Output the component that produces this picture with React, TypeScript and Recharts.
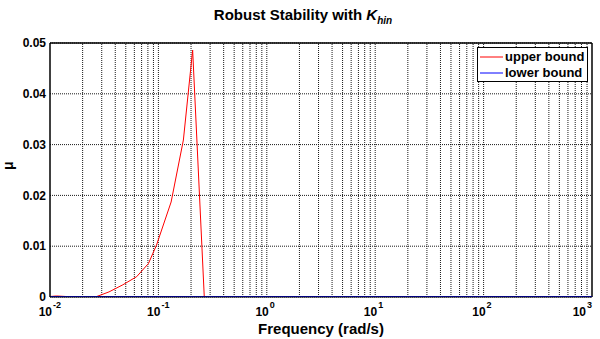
import {
  LineChart,
  Line,
  XAxis,
  YAxis,
  CartesianGrid,
  ReferenceLine,
  Legend,
} from "recharts";

const FONT = '"Liberation Sans", Arial, Helvetica, sans-serif';

// frequency points (rad/s) and mu bounds
const freq = [0.01, 0.0115, 0.014, 0.02, 0.027, 0.035, 0.047, 0.063, 0.081, 0.096, 0.131, 0.17, 0.207, 0.265, 1, 10, 100, 1000];
const upperBound = [0.0001, 0.0002, 0.0001, 0, 0.0001, 0.001, 0.0024, 0.004, 0.0066, 0.0102, 0.0187, 0.0309, 0.0486, 0, 0, 0, 0, 0];
const lowerBound = [0, 0, 0, 0, 0, 0, 0, 0, 0, 0, 0, 0, 0, 0, 0, 0, 0, 0];

const seriesNames = ["upper bound", "lower bound"];

const xTicks = [0.01, 0.1, 1, 10, 100, 1000];
const yTicks = [0, 0.01, 0.02, 0.03, 0.04, 0.05];

// minor log grid: 2..9 x each decade, plus inner decades
const decades = [0.01, 0.1, 1, 10, 100];
const minorMults = [2, 3, 4, 5, 6, 7, 8, 9, 10];

const gridX: number[] = [];
decades.forEach((d) => minorMults.forEach((m) => {
  const v = +(d * m).toPrecision(3);
  if (v < 1000) gridX.push(v);
}));

const data = freq.map((f, i) => ({ f, upper: upperBound[i], lower: lowerBound[i] }));

const GRID = { stroke: "#000", strokeDasharray: "1 1", strokeOpacity: 0.9 };

const FreqTick = (props: any) => {
  const { x, y, payload } = props;
  const exp = Math.round(Math.log10(payload.value));
  const shift = payload.value === 1000 ? -6 : 2;
  return (
    <g fontFamily={FONT} fontWeight="bold" fill="#000">
      <text x={x + shift} y={y + 19} textAnchor="end" fontSize={12}>10</text>
      <text x={x + shift + 1} y={y + 11} textAnchor="start" fontSize={9}>{exp}</text>
    </g>
  );
};

const renderLegend = (props: any) => {
  const items = [...(props.payload || [])].sort(
    (a: any, b: any) => seriesNames.indexOf(a.value) - seriesNames.indexOf(b.value)
  );
  return (
    <div
      style={{
        border: "1px solid #000",
        background: "#fff",
        padding: "1px 3px 0px 2px",
        fontFamily: FONT,
        fontWeight: "bold",
        fontSize: 13,
        lineHeight: "16px",
      }}
    >
      {items.map((entry: any) => (
        <div key={entry.value} style={{ display: "flex", alignItems: "center", whiteSpace: "nowrap" }}>
          <svg width={24} height={10} style={{ marginRight: 1 }}>
            <line x1={0} y1={5} x2={23} y2={5} stroke={entry.color} strokeWidth={1} />
          </svg>
          <span>{entry.value}</span>
        </div>
      ))}
    </div>
  );
};

export default function App() {
  return (
    <div style={{ position: "absolute", left: 0, top: 0, width: 600, height: 339, background: "#fff" }}>
      <div
        style={{
          position: "absolute",
          left: 0,
          top: 6,
          width: 606,
          textAlign: "center",
          fontFamily: FONT,
          fontWeight: "bold",
          fontSize: 15,
          color: "#000",
        }}
      >
        Robust Stability with <i>K<sub style={{ fontSize: 10 }}>hin</sub></i>
      </div>
      <LineChart
        width={600}
        height={339}
        data={data}
        margin={{ top: 43, right: 8, left: 0, bottom: 0 }}
      >
        <CartesianGrid vertical={false} {...GRID} />
        {gridX.map((v) => (
          <ReferenceLine key={v} x={v} {...GRID} />
        ))}
        <XAxis
          dataKey="f"
          type="number"
          scale="log"
          domain={[0.01, 1000]}
          ticks={xTicks}
          allowDataOverflow
          height={42}
          tickLine={false}
          tickSize={0}
          tickMargin={0}
          tick={<FreqTick />}
          interval={0}
          axisLine={{ stroke: "#000", strokeWidth: 1 }}
          label={{
            value: "Frequency (rad/s)",
            position: "insideBottom",
            offset: 5,
            fill: "#000",
            fontSize: 15,
            fontWeight: "bold",
            fontFamily: FONT,
          }}
        />
        <YAxis
          type="number"
          domain={[0, 0.05]}
          ticks={yTicks}
          allowDataOverflow
          width={50}
          tickLine={false}
          tickSize={4}
          tickMargin={0}
          interval={0}
          tick={{ fill: "#000", fontSize: 12, fontWeight: "bold", fontFamily: FONT }}
          axisLine={{ stroke: "#000", strokeWidth: 1.5 }}
          label={{
            value: "μ",
            angle: -90,
            position: "insideLeft",
            offset: 8,
            fill: "#000",
            fontSize: 14,
            fontWeight: "bold",
            fontFamily: FONT,
          }}
        />
        <ReferenceLine y={0.05} stroke="#000" strokeWidth={1.5} />
        <ReferenceLine x={1000} stroke="#000" strokeWidth={1.5} />
        <Legend
          layout="vertical"
          align="center"
          verticalAlign="middle"
          content={renderLegend}
          wrapperStyle={{ top: 47, left: 477, width: "auto" }}
        />
        <Line
          type="linear"
          dataKey="upper"
          name="upper bound"
          stroke="#ff0000"
          strokeWidth={1}
          dot={false}
          isAnimationActive={false}
        />
        <Line
          type="linear"
          dataKey="lower"
          name="lower bound"
          stroke="#0000ff"
          strokeWidth={2}
          dot={false}
          isAnimationActive={false}
        />
      </LineChart>
    </div>
  );
}
